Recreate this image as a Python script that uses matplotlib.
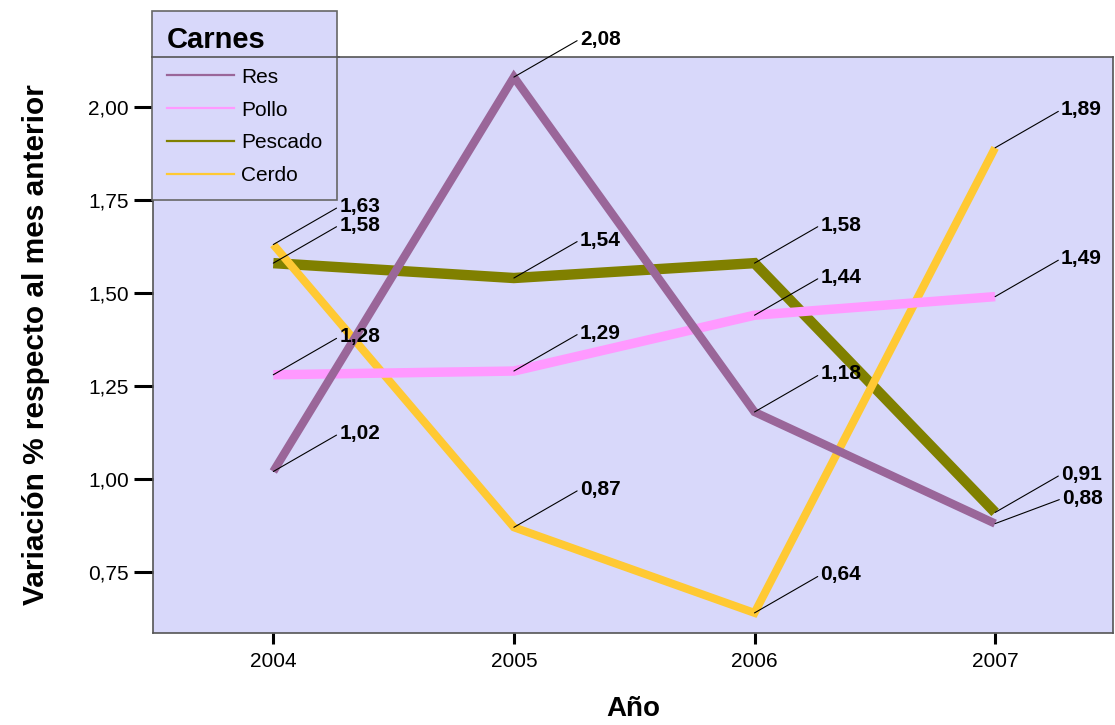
import matplotlib
matplotlib.use("Agg")
import matplotlib.pyplot as plt
from matplotlib.lines import Line2D

plt.rcParams['font.family'] = ['Liberation Sans', 'DejaVu Sans']

# data
years = [2004, 2005, 2006, 2007]
res = [1.02, 2.08, 1.18, 0.88]
pollo = [1.28, 1.29, 1.44, 1.49]
pescado = [1.58, 1.54, 1.58, 0.91]
cerdo = [1.63, 0.87, 0.64, 1.89]

series = [
    ("Res", res, "#9A6699", 6.0, 5),
    ("Pollo", pollo, "#FF99FF", 6.8, 4),
    ("Pescado", pescado, "#808000", 7.5, 2),
    ("Cerdo", cerdo, "#FFC933", 5.8, 3),
]
bg = "#D8D8FA"

fig = plt.figure(figsize=(11.15, 7.25), dpi=100)
ax = fig.add_axes([153 / 1115, 92 / 725, 960 / 1115, 576 / 725])
ax.set_facecolor(bg)

for name, vals, col, lw, z in series:
    ax.plot(years, vals, color=col, lw=lw, zorder=z, solid_capstyle="butt",
            solid_joinstyle="miter")

# value labels with leader lines
for name, vals, col, lw, z in series:
    for x, v in zip(years, vals):
        off = (66, 38)
        if name == "Res" and x == 2007:
            off = (67, 25)
        ax.annotate(f"{v:.2f}".replace(".", ","), xy=(x, v), xytext=off,
                    textcoords="offset pixels", ha="left", va="center",
                    fontsize=15, fontweight="bold", zorder=10,
                    annotation_clip=False,
                    arrowprops=dict(arrowstyle="-", color="black", lw=0.8,
                                    shrinkA=0, shrinkB=0, relpos=(0, 0.5)))

ax.set_xlim(2003.5, 2007.49)
ax.set_ylim(0.586, 2.134)
ax.set_xticks(years)
ax.set_xticklabels([str(y) for y in years])
yt = [0.75, 1.0, 1.25, 1.5, 1.75, 2.0]
ax.set_yticks(yt)
ax.set_yticklabels([f"{t:.2f}".replace(".", ",") for t in yt])
ax.tick_params(axis="y", length=13.5, width=2.2, labelsize=15, pad=4)
ax.tick_params(axis="x", length=8, width=2.2, labelsize=15, pad=6)
for s in ax.spines.values():
    s.set_color("#555555")
    s.set_linewidth(1.2)

ax.set_ylabel("Variación % respecto al mes anterior", fontsize=21.5,
              fontweight="bold", labelpad=27)
ax.set_xlabel("Año", fontsize=20, fontweight="bold", labelpad=18)

handles = [Line2D([], [], color=c, lw=1.6) for _, _, c, _, _ in series]
labels = [n for n, _, _, _, _ in series]
leg = fig.legend(handles, labels, title="Carnes", loc="upper left",
                 bbox_to_anchor=(152 / 1115, 1 - 11 / 725), fontsize=15,
                 title_fontproperties={"weight": "bold", "size": 21},
                 frameon=True, fancybox=False, facecolor=bg,
                 edgecolor="#666666", framealpha=1, handlelength=3.2,
                 handletextpad=0.35, labelspacing=0.66, borderpad=0.72,
                 borderaxespad=0)
leg._legend_box.align = "left"
leg.get_frame().set_linewidth(1.2)

pos = ax.get_position()
fig.add_artist(Line2D([152 / 1115, 339 / 1115], [pos.y1, pos.y1],
                      transform=fig.transFigure, color="#555555", lw=1.2,
                      zorder=10))

fig.savefig("out.png", dpi=100, facecolor="white")
